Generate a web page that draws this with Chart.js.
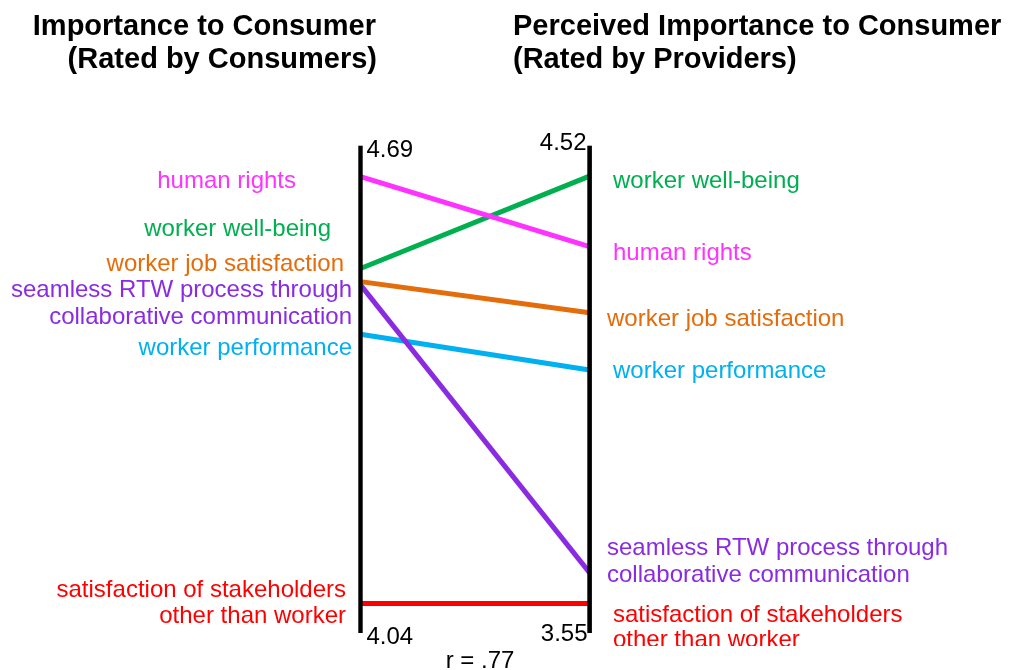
<!DOCTYPE html>
<html>
<head>
<meta charset="utf-8">
<script src="https://cdn.jsdelivr.net/npm/chart.js@4.4.1/dist/chart.umd.min.js"></script>
<style>
  html, body { margin: 0; padding: 0; background: #ffffff; }
  #wrap { width: 1011px; height: 670px; position: relative; }
</style>
</head>
<body>
<div id="wrap"><canvas id="c" width="1011" height="670"></canvas></div>
<script>
// ---- data ----
const items = [
  'human rights',
  'worker well-being',
  'worker job satisfaction',
  'seamless RTW process through collaborative communication',
  'worker performance',
  'satisfaction of stakeholders other than worker'
];
const consumerRatings = [4.69, 4.55, 4.53, 4.525, 4.45, 4.04];   // left axis
const providerRatings = [4.36, 4.52, 4.21, 3.62, 4.08, 3.55];    // right axis
const leftTickLabels = ['4.69', '4.04'];
const rightTickLabels = ['4.52', '3.55'];
const correlationLabel = 'r = .77';
const leftTitle = ['Importance to Consumer', '(Rated by Consumers)'];
const rightTitle = ['Perceived Importance to Consumer', '(Rated by Providers)'];

// ---- styles / layout (kept separate from the data) ----
const colors = ['#ff33ff', '#00b050', '#e46c0a', '#8a2be2', '#00b0f0', '#ff0000'];
const leftRange = { min: 3.995, max: 4.737 };
const rightRange = { min: 3.483, max: 4.589 };
// label placement: [x, baseline y] per line of text
const leftLabelPlacement = [
  { lines: ['human rights'], x: 296, y: [188] },
  { lines: ['worker well-being'], x: 331, y: [236] },
  { lines: ['worker job satisfaction'], x: 344, y: [271] },
  { lines: ['seamless RTW process through', 'collaborative communication'], x: 352, y: [297, 324] },
  { lines: ['worker performance'], x: 352, y: [355] },
  { lines: ['satisfaction of stakeholders', 'other than worker'], x: 346, y: [597, 623] }
];
const rightLabelPlacement = [
  { lines: ['human rights'], x: 613, y: [260] },
  { lines: ['worker well-being'], x: 613, y: [188] },
  { lines: ['worker job satisfaction'], x: 607, y: [326] },
  { lines: ['seamless RTW process through', 'collaborative communication'], x: 607, y: [555, 582] },
  { lines: ['worker performance'], x: 613, y: [378] },
  { lines: ['satisfaction of stakeholders', 'other than worker'], x: 613, y: [622, 647] }
];

const FONT = '"Liberation Sans", Arial, Helvetica, sans-serif';

function norm(v, r) { return (v - r.min) / (r.max - r.min); }

const datasets = items.map((name, i) => ({
  label: name,
  data: [
    { x: 0, y: norm(consumerRatings[i], leftRange) },
    { x: 1, y: norm(providerRatings[i], rightRange) }
  ],
  borderColor: colors[i],
  backgroundColor: colors[i],
  borderWidth: 5,
  borderCapStyle: 'butt',
  pointRadius: 0,
  tension: 0,
  clip: false
}));

const overlay = {
  id: 'overlay',
  afterDatasetsDraw(chart) {
    const ctx = chart.ctx;
    const a = chart.chartArea;
    ctx.save();
    // vertical axes
    ctx.fillStyle = '#000000';
    ctx.fillRect(a.left - 2.2, a.top, 4.4, a.bottom - a.top);
    ctx.fillRect(a.right - 2.2, a.top, 4.6, a.bottom - a.top);

    // tick labels
    ctx.font = '24px ' + FONT;
    ctx.textBaseline = 'alphabetic';
    ctx.fillStyle = '#000000';
    ctx.textAlign = 'left';
    ctx.fillText(leftTickLabels[0], a.left + 6, 157);
    ctx.fillText(leftTickLabels[1], a.left + 6, 644);
    ctx.textAlign = 'right';
    ctx.fillText(rightTickLabels[0], a.right - 3, 150);
    ctx.fillText(rightTickLabels[1], a.right - 2, 641);
    ctx.textAlign = 'center';
    ctx.fillText(correlationLabel, (a.left + a.right) / 2 + 5, 668);

    // titles
    ctx.font = 'bold 29px ' + FONT;
    ctx.textAlign = 'right';
    ctx.fillText(leftTitle[0], 376, 35);
    ctx.fillText(leftTitle[1], 377, 68);
    ctx.textAlign = 'left';
    ctx.fillText(rightTitle[0], 513, 35);
    ctx.fillText(rightTitle[1], 513, 68);

    // item labels
    ctx.font = '24px ' + FONT;
    ctx.textAlign = 'right';
    leftLabelPlacement.forEach((p, i) => {
      ctx.fillStyle = colors[i];
      p.lines.forEach((t, k) => ctx.fillText(t, p.x, p.y[k]));
    });
    ctx.save();
    ctx.beginPath();
    ctx.rect(0, 0, chart.width, 646);
    ctx.clip();
    ctx.textAlign = 'left';
    rightLabelPlacement.forEach((p, i) => {
      ctx.fillStyle = colors[i];
      p.lines.forEach((t, k) => ctx.fillText(t, p.x, p.y[k]));
    });
    ctx.restore();
    ctx.restore();
  }
};

new Chart(document.getElementById('c'), {
  type: 'line',
  data: { datasets },
  options: {
    responsive: false,
    animation: false,
    devicePixelRatio: 1,
    layout: { padding: { left: 360.5, right: 421.5, top: 145.7, bottom: 37 } },
    scales: {
      x: { type: 'linear', min: 0, max: 1, display: false },
      y: { type: 'linear', min: 0, max: 1, display: false }
    },
    plugins: {
      legend: { display: false },
      tooltip: { enabled: false },
      title: { display: false }
    }
  },
  plugins: [overlay]
});
</script>
</body>
</html>
